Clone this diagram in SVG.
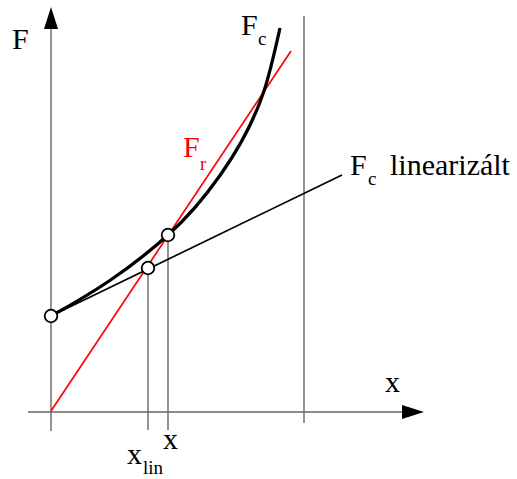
<svg xmlns="http://www.w3.org/2000/svg" width="517" height="479" viewBox="0 0 517 479">
<style>
.ax{stroke:#666;stroke-width:1.4;fill:none}
.t{font-size:30px}
.s{font-size:19px}
.pt{fill:#fff;stroke:#000;stroke-width:1.8}
</style>
<rect width="517" height="479" fill="#fff"/>
<g id="axes">
<line class="ax" x1="51" y1="27" x2="51" y2="431"/>
<polygon points="51,7 44,29 58,29" fill="#000"/>
<line class="ax" x1="28" y1="412" x2="404" y2="412"/>
<polygon points="424,412 402,405 402,419" fill="#000"/>
<line class="ax" x1="304" y1="16" x2="304" y2="423"/>
</g>
<g id="connectors">
<line class="ax" x1="148" y1="268" x2="148" y2="430"/>
<line class="ax" x1="168" y1="235" x2="168" y2="430"/>
<line x1="51" y1="411" x2="291" y2="51" stroke="#f00" stroke-width="1.7"/>
<line x1="51" y1="316" x2="342" y2="175" stroke="#000" stroke-width="1.7"/>
<path d="M51,316 C91,294 128,271 168,235 C200,206.2 244,151 264,91 C269.33,75 274.67,52 280,28" fill="none" stroke="#000" stroke-width="3.3"/>
</g>
<g id="points">
<circle class="pt" cx="51" cy="316" r="6.3"/>
<circle class="pt" cx="148" cy="268" r="6.3"/>
<circle class="pt" cx="168" cy="235" r="6.3"/>
</g>
<g id="labels" font-family="'Liberation Serif', 'DejaVu Serif', serif" fill="#000">
<text class="t" x="12" y="49">F</text>
<text class="t" x="241" y="35">F</text>
<text class="s" x="258" y="45">c</text>
<text class="t" x="183" y="157" fill="#f00">F</text>
<text class="s" x="200" y="170" fill="#f00">r</text>
<text class="t" x="350" y="175">F</text>
<text class="s" x="368" y="185">c</text>
<text class="t" x="390" y="175">linearizált</text>
<text class="t" x="385" y="392">x</text>
<text class="t" x="163" y="449">x</text>
<text class="t" x="127" y="464">x</text>
<text class="s" x="143" y="474">lin</text>
</g>
</svg>
